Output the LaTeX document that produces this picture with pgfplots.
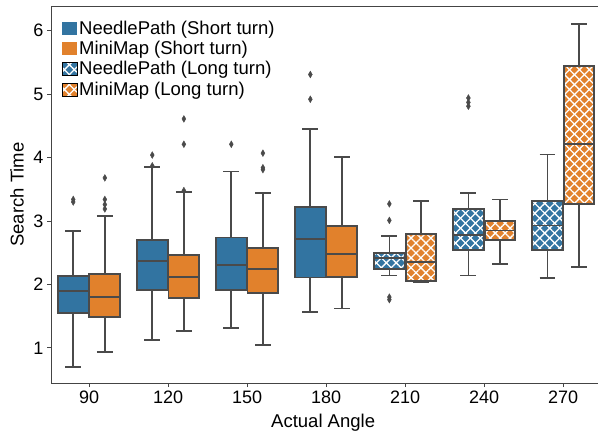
\documentclass[border=0pt]{standalone}
\usepackage{fontspec}
\setmainfont{Liberation Sans}
\usepackage{pgfplots}
\pgfplotsset{compat=1.18}
\usepgfplotslibrary{statistics}
\usetikzlibrary{patterns.meta,calc}

\definecolor{sbblue}{HTML}{3274A1}
\definecolor{sborange}{HTML}{E1812C}
\definecolor{edge}{HTML}{4A4A4A}
\definecolor{spine}{HTML}{444444}

\tikzset{hatchx/.style={
  postaction={pattern={Lines[angle=45,distance=7pt,line width=1.3pt]},pattern color=white},
  postaction={pattern={Lines[angle=-45,distance=7pt,line width=1.3pt]},pattern color=white}}}

\pgfplotsset{
  bx/.style={forget plot, boxplot/draw direction=y, draw=edge, line width=1.7pt,
    boxplot/box extend=0.39, boxplot/whisker extend=0.2,
    boxplot/every median/.style={draw=edge, line width=1.9pt},
    boxplot/every whisker/.style={draw=edge, line width=1.7pt},
    mark=diamond*, mark size=2.6pt,
    mark options={fill=edge, draw=edge, line width=0.4pt, yscale=1.3}},
  short/.style={bx, boxplot/every box/.style={draw=edge, line width=1.9pt, fill=#1}},
  long/.style={bx, boxplot/every box/.style={draw=edge, line width=1.9pt, fill=#1, hatchx}},
}

\begin{document}
\begin{tikzpicture}
\begin{axis}[
    scale only axis, width=546.7pt, height=377pt,
    xmin=-0.481, xmax=6.44, ymin=0.443, ymax=6.39,
    axis x line*=bottom, axis y line*=left,
    axis line style={spine, line width=1pt},
    tick style={spine, line width=1pt}, major tick length=4pt, tick align=outside,
    xtick={0,1,2,3,4,5,6}, xticklabels={90,120,150,180,210,240,270},
    ytick={1,2,3,4,5,6},
    /pgf/number format/assume math mode=true,
    tick label style={font=\fontsize{18}{21}\selectfont},
    xlabel={Actual Angle}, ylabel={Search Time},
    label style={font=\fontsize{18.5}{22}\selectfont},
    xlabel style={at={(axis description cs:0.4975,-0.1167)}, anchor=base},
    ylabel style={at={(axis description cs:-0.0622,0.5)}, anchor=center},
    legend style={at={(axis description cs:0,1)}, anchor=north west, xshift=8pt, yshift=-11pt,
      draw=none, fill=none, font=\fontsize{18.5}{21}\selectfont,
      nodes={inner sep=1.5pt}, row sep=2.5pt},
    legend cell align=left,
    legend image code/.code={\path[#1, draw=none] (0pt,-6.5pt) rectangle (15pt,6.5pt);},
]
\coordinate (sw) at (rel axis cs:0,0);
\coordinate (ne) at (rel axis cs:1,1);
\draw[spine, line width=1pt] (rel axis cs:0,1) -- (rel axis cs:1,1);

% 90
\addplot[short=sbblue, boxplot prepared={draw position=-0.2, lower whisker=0.70, lower quartile=1.55, median=1.90, upper quartile=2.14, upper whisker=2.84}]
  table[row sep=\\, y index=0] {3.34\\3.30\\};
\addplot[short=sborange, boxplot prepared={draw position=0.2, lower whisker=0.93, lower quartile=1.49, median=1.80, upper quartile=2.17, upper whisker=3.08}]
  table[row sep=\\, y index=0] {3.19\\3.26\\3.34\\3.68\\};
% 120
\addplot[short=sbblue, boxplot prepared={draw position=0.8, lower whisker=1.12, lower quartile=1.91, median=2.37, upper quartile=2.70, upper whisker=3.85}]
  table[row sep=\\, y index=0] {3.87\\4.04\\};
\addplot[short=sborange, boxplot prepared={draw position=1.2, lower whisker=1.27, lower quartile=1.79, median=2.12, upper quartile=2.47, upper whisker=3.46}]
  table[row sep=\\, y index=0] {3.48\\4.21\\4.61\\};
% 150
\addplot[short=sbblue, boxplot prepared={draw position=1.8, lower whisker=1.31, lower quartile=1.91, median=2.30, upper quartile=2.74, upper whisker=3.78}]
  table[row sep=\\, y index=0] {4.21\\};
\addplot[short=sborange, boxplot prepared={draw position=2.2, lower whisker=1.04, lower quartile=1.86, median=2.25, upper quartile=2.58, upper whisker=3.44}]
  table[row sep=\\, y index=0] {3.81\\3.84\\4.07\\};
% 180
\addplot[short=sbblue, boxplot prepared={draw position=2.8, lower whisker=1.56, lower quartile=2.11, median=2.71, upper quartile=3.22, upper whisker=4.45}]
  table[row sep=\\, y index=0] {4.92\\5.31\\};
\addplot[short=sborange, boxplot prepared={draw position=3.2, lower whisker=1.62, lower quartile=2.12, median=2.48, upper quartile=2.92, upper whisker=4.01}]
  coordinates {};
% 210
\addplot[long=sbblue, boxplot prepared={draw position=3.8, lower whisker=2.14, lower quartile=2.24, median=2.42, upper quartile=2.50, upper whisker=2.76}]
  table[row sep=\\, y index=0] {3.01\\3.27\\1.80\\1.76\\};
\addplot[long=sborange, boxplot prepared={draw position=4.2, lower whisker=2.04, lower quartile=2.06, median=2.36, upper quartile=2.79, upper whisker=3.32}]
  coordinates {};
% 240
\addplot[long=sbblue, boxplot prepared={draw position=4.8, lower whisker=2.14, lower quartile=2.55, median=2.78, upper quartile=3.19, upper whisker=3.44}]
  table[row sep=\\, y index=0] {4.81\\4.87\\4.94\\};
\addplot[long=sborange, boxplot prepared={draw position=5.2, lower whisker=2.32, lower quartile=2.70, median=2.85, upper quartile=3.00, upper whisker=3.34}]
  coordinates {};
% 270
\addplot[long=sbblue, boxplot prepared={draw position=5.8, lower whisker=2.10, lower quartile=2.55, median=2.93, upper quartile=3.32, upper whisker=4.05}]
  coordinates {};
\addplot[long=sborange, boxplot prepared={draw position=6.2, lower whisker=2.27, lower quartile=3.27, median=4.22, upper quartile=5.44, upper whisker=6.11}]
  coordinates {};

\addlegendimage{fill=sbblue}
\addlegendentry{NeedlePath (Short turn)}
\addlegendimage{fill=sborange}
\addlegendentry{MiniMap (Short turn)}
\addlegendimage{fill=sbblue, hatchx}
\addlegendentry{NeedlePath (Long turn)}
\addlegendimage{fill=sborange, hatchx}
\addlegendentry{MiniMap (Long turn)}
\end{axis}
\pgfresetboundingbox
\path[use as bounding box] ($(sw)+(-51pt,-48pt)$) rectangle ($(ne)+(0pt,6pt)$);
\end{tikzpicture}
\end{document}
